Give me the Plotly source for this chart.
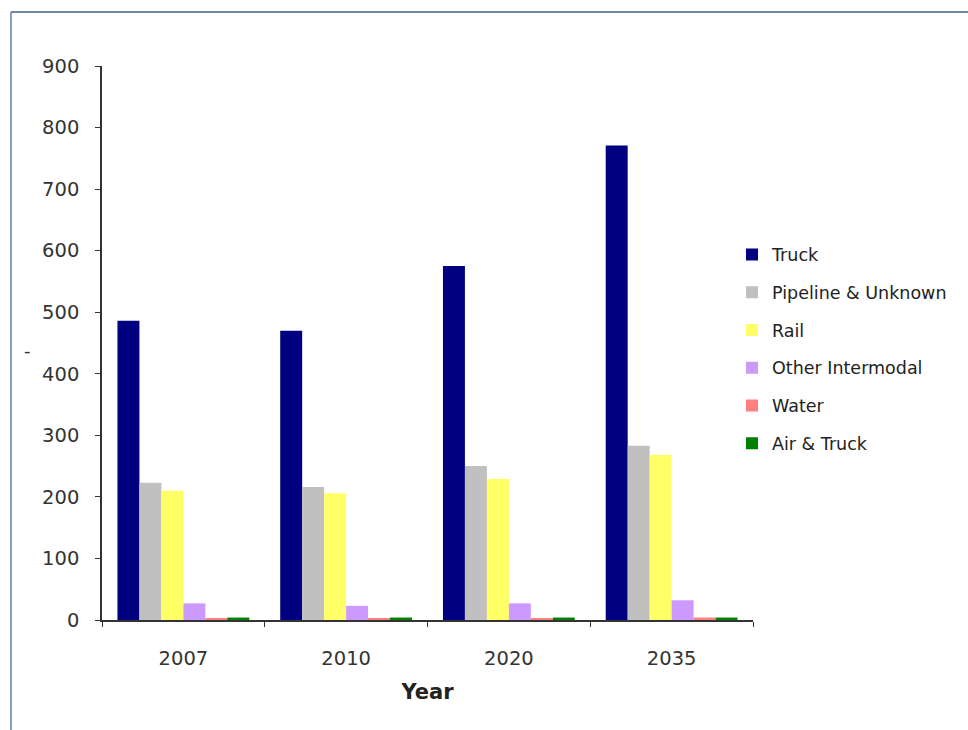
import plotly.graph_objects as go

years = ["2007", "2010", "2020", "2035"]
truck = [486, 470, 575, 771]
pipeline = [223, 216, 250, 283]
rail = [210, 206, 229, 268]
other_intermodal = [27, 23, 27, 32]
water = [3, 2, 2, 4]
air_truck = [4, 4, 4, 4]

series = [
    ("Truck", truck, "#000080"),
    ("Pipeline & Unknown", pipeline, "#C0C0C0"),
    ("Rail", rail, "#FFFF66"),
    ("Other Intermodal", other_intermodal, "#CC99FF"),
    ("Water", water, "#FF8080"),
    ("Air & Truck", air_truck, "#008000"),
]

W, H = 968, 730
L, R, T, B = 102, 215, 66, 110
pw, ph = W - L - R, H - T - B

def px(x):
    return (x - L) / pw

def py(y):
    return 1 - (y - T) / ph

fig = go.Figure()
for i, (name, vals, col) in enumerate(series):
    fig.add_trace(go.Bar(name=name, x=years, y=vals, marker=dict(color=col, line=dict(width=0)),
                         legendgroup=str(i)))

font = "DejaVu Sans"
fig.update_layout(
    width=W, height=H,
    margin=dict(l=L, r=R, t=T, b=B),
    paper_bgcolor="white", plot_bgcolor="white",
    barmode="group", bargap=0.19, bargroupgap=0,
    font=dict(family=font, size=17, color="#222"),
    showlegend=True,
    legend=dict(x=px(732), xanchor="left", y=py(349), yanchor="middle",
                traceorder="grouped", tracegroupgap=12,
                font=dict(family=font, size=17.5, color="#222"),
                bgcolor="rgba(0,0,0,0)", itemsizing="constant"),
    xaxis=dict(type="category", showline=True, linecolor="#333", linewidth=1.5,
               ticks="outside", tickson="boundaries", ticklen=5, tickcolor="#333",
               tickfont=dict(family=font, size=19.5, color="#333"),
               ticklabelstandoff=20,
               title=dict(text="<b>Year</b>", font=dict(family=font, size=21, color="#222"), standoff=15),
               showgrid=False, zeroline=False),
    yaxis=dict(range=[0, 900], dtick=100, showline=True, linecolor="#333", linewidth=1.5,
               ticks="outside", ticklen=5, tickcolor="#333",
               tickfont=dict(family=font, size=19.5, color="#333"),
               ticklabelstandoff=12,
               showgrid=False, zeroline=False),
    shapes=[
        dict(type="line", xref="paper", yref="paper", x0=px(11), x1=px(1000), y0=py(12), y1=py(12),
             line=dict(color="#7088a6", width=2)),
        dict(type="line", xref="paper", yref="paper", x0=px(11), x1=px(11), y0=py(12), y1=py(760),
             line=dict(color="#5f7fb0", width=1.5)),
    ],
    annotations=[
        dict(text="-", xref="paper", yref="paper", x=px(22), y=py(350), showarrow=False,
             font=dict(family=font, size=18, color="#333")),
    ],
)

fig.write_html("out.html", config={"displayModeBar": False},
               post_script="document.body.style.margin='0';document.body.style.overflow='hidden';")
